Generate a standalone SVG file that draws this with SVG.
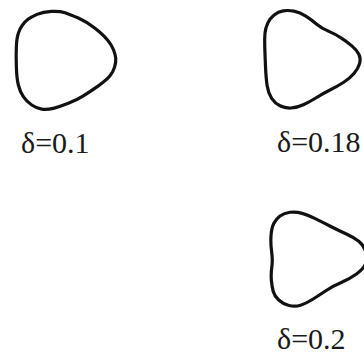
<svg xmlns="http://www.w3.org/2000/svg" width="364" height="354" viewBox="0 0 364 354">
<style>
.curve{fill:none;stroke:#111;stroke-width:3.2;stroke-linejoin:round}
.lbl{font-family:"Liberation Serif","Times New Roman",serif;font-size:30px;fill:#1a1a1a}
</style>
<rect width="364" height="354" fill="#fff"/>
<g id="shape-01">
<path class="curve" d="M51.5,11.35 Q60,11 65,12.65 Q70,14.3 78.35,18 Q86.7,21.7 95,28.35 Q103.3,35 107.5,40 Q111.7,45 113.6,50 Q115.5,55 115.75,58.5 Q116,62 114.65,66.85 Q113.3,71.7 110,75.85 Q106.7,80 98.35,85.85 Q90,91.7 83.35,95.85 Q76.7,100 68.35,103.35 Q60,106.7 53.35,108.35 Q46.7,110 41.7,109.15 Q36.7,108.3 31.7,105 Q26.7,101.7 23.35,96.7 Q20,91.7 18.35,85 Q16.7,78.3 16.35,66.65 Q16,55 16.35,46.65 Q16.7,38.3 18.35,33.3 Q20,28.3 22.5,25 Q25,21.7 28,19.35 Q31,17 37,14.35 Q43,11.7 51.5,11.35 Z"/>
<text class="lbl" x="21" y="153">δ=0.1</text>
</g>
<g id="shape-018">
<path class="curve" d="M294,11.15 Q300,12.3 305.85,16.15 Q311.7,20 316.7,24.15 Q321.7,28.3 328.35,31.15 Q335,34 341,37.85 Q347,41.7 351.85,45.85 Q356.7,50 358.85,54.25 Q361,58.5 359.65,63.4 Q358.3,68.3 354.15,73.3 Q350,78.3 343.35,82.5 Q336.7,86.7 330,90 Q323.3,93.3 316.65,97.5 Q310,101.7 303.35,104.7 Q296.7,107.7 290.85,108 Q285,108.3 280,105.8 Q275,103.3 271.65,98.3 Q268.3,93.3 267.15,85.8 Q266,78.3 265.5,66.65 Q265,55 264.75,46.65 Q264.5,38.3 265,33.15 Q265.5,28 267.75,23.15 Q270,18.3 274.15,15 Q278.3,11.7 283.15,10.85 Q288,10 294,11.15 Z"/>
<text class="lbl" x="277" y="152">δ=0.18</text>
</g>
<g id="shape-02">
<path class="curve" d="M302.25,213.4 Q308.5,215.3 315.25,218.65 Q322,222 330.35,226.25 Q338.7,230.5 346.35,234 Q354,237.5 358.75,241.25 Q363.5,245 365.75,251.5 Q368,258 365.75,263.5 Q363.5,269 356.5,274 Q349.5,279 341.25,282.5 Q333,286 326.25,290.5 Q319.5,295 312.75,299.25 Q306,303.5 300.5,305.25 Q295,307 289,305.5 Q283,304 278.75,300 Q274.5,296 273.25,291.5 Q272,287 271.4,280.5 Q270.8,274 271.8,267 Q272.8,260 271.65,252 Q270.5,244 271,236 Q271.5,228 273.75,223.5 Q276,219 280,216 Q284,213 290,212.25 Q296,211.5 302.25,213.4 Z"/>
<text class="lbl" x="277" y="349">δ=0.2</text>
</g>
<g id="connectors"/>
</svg>
